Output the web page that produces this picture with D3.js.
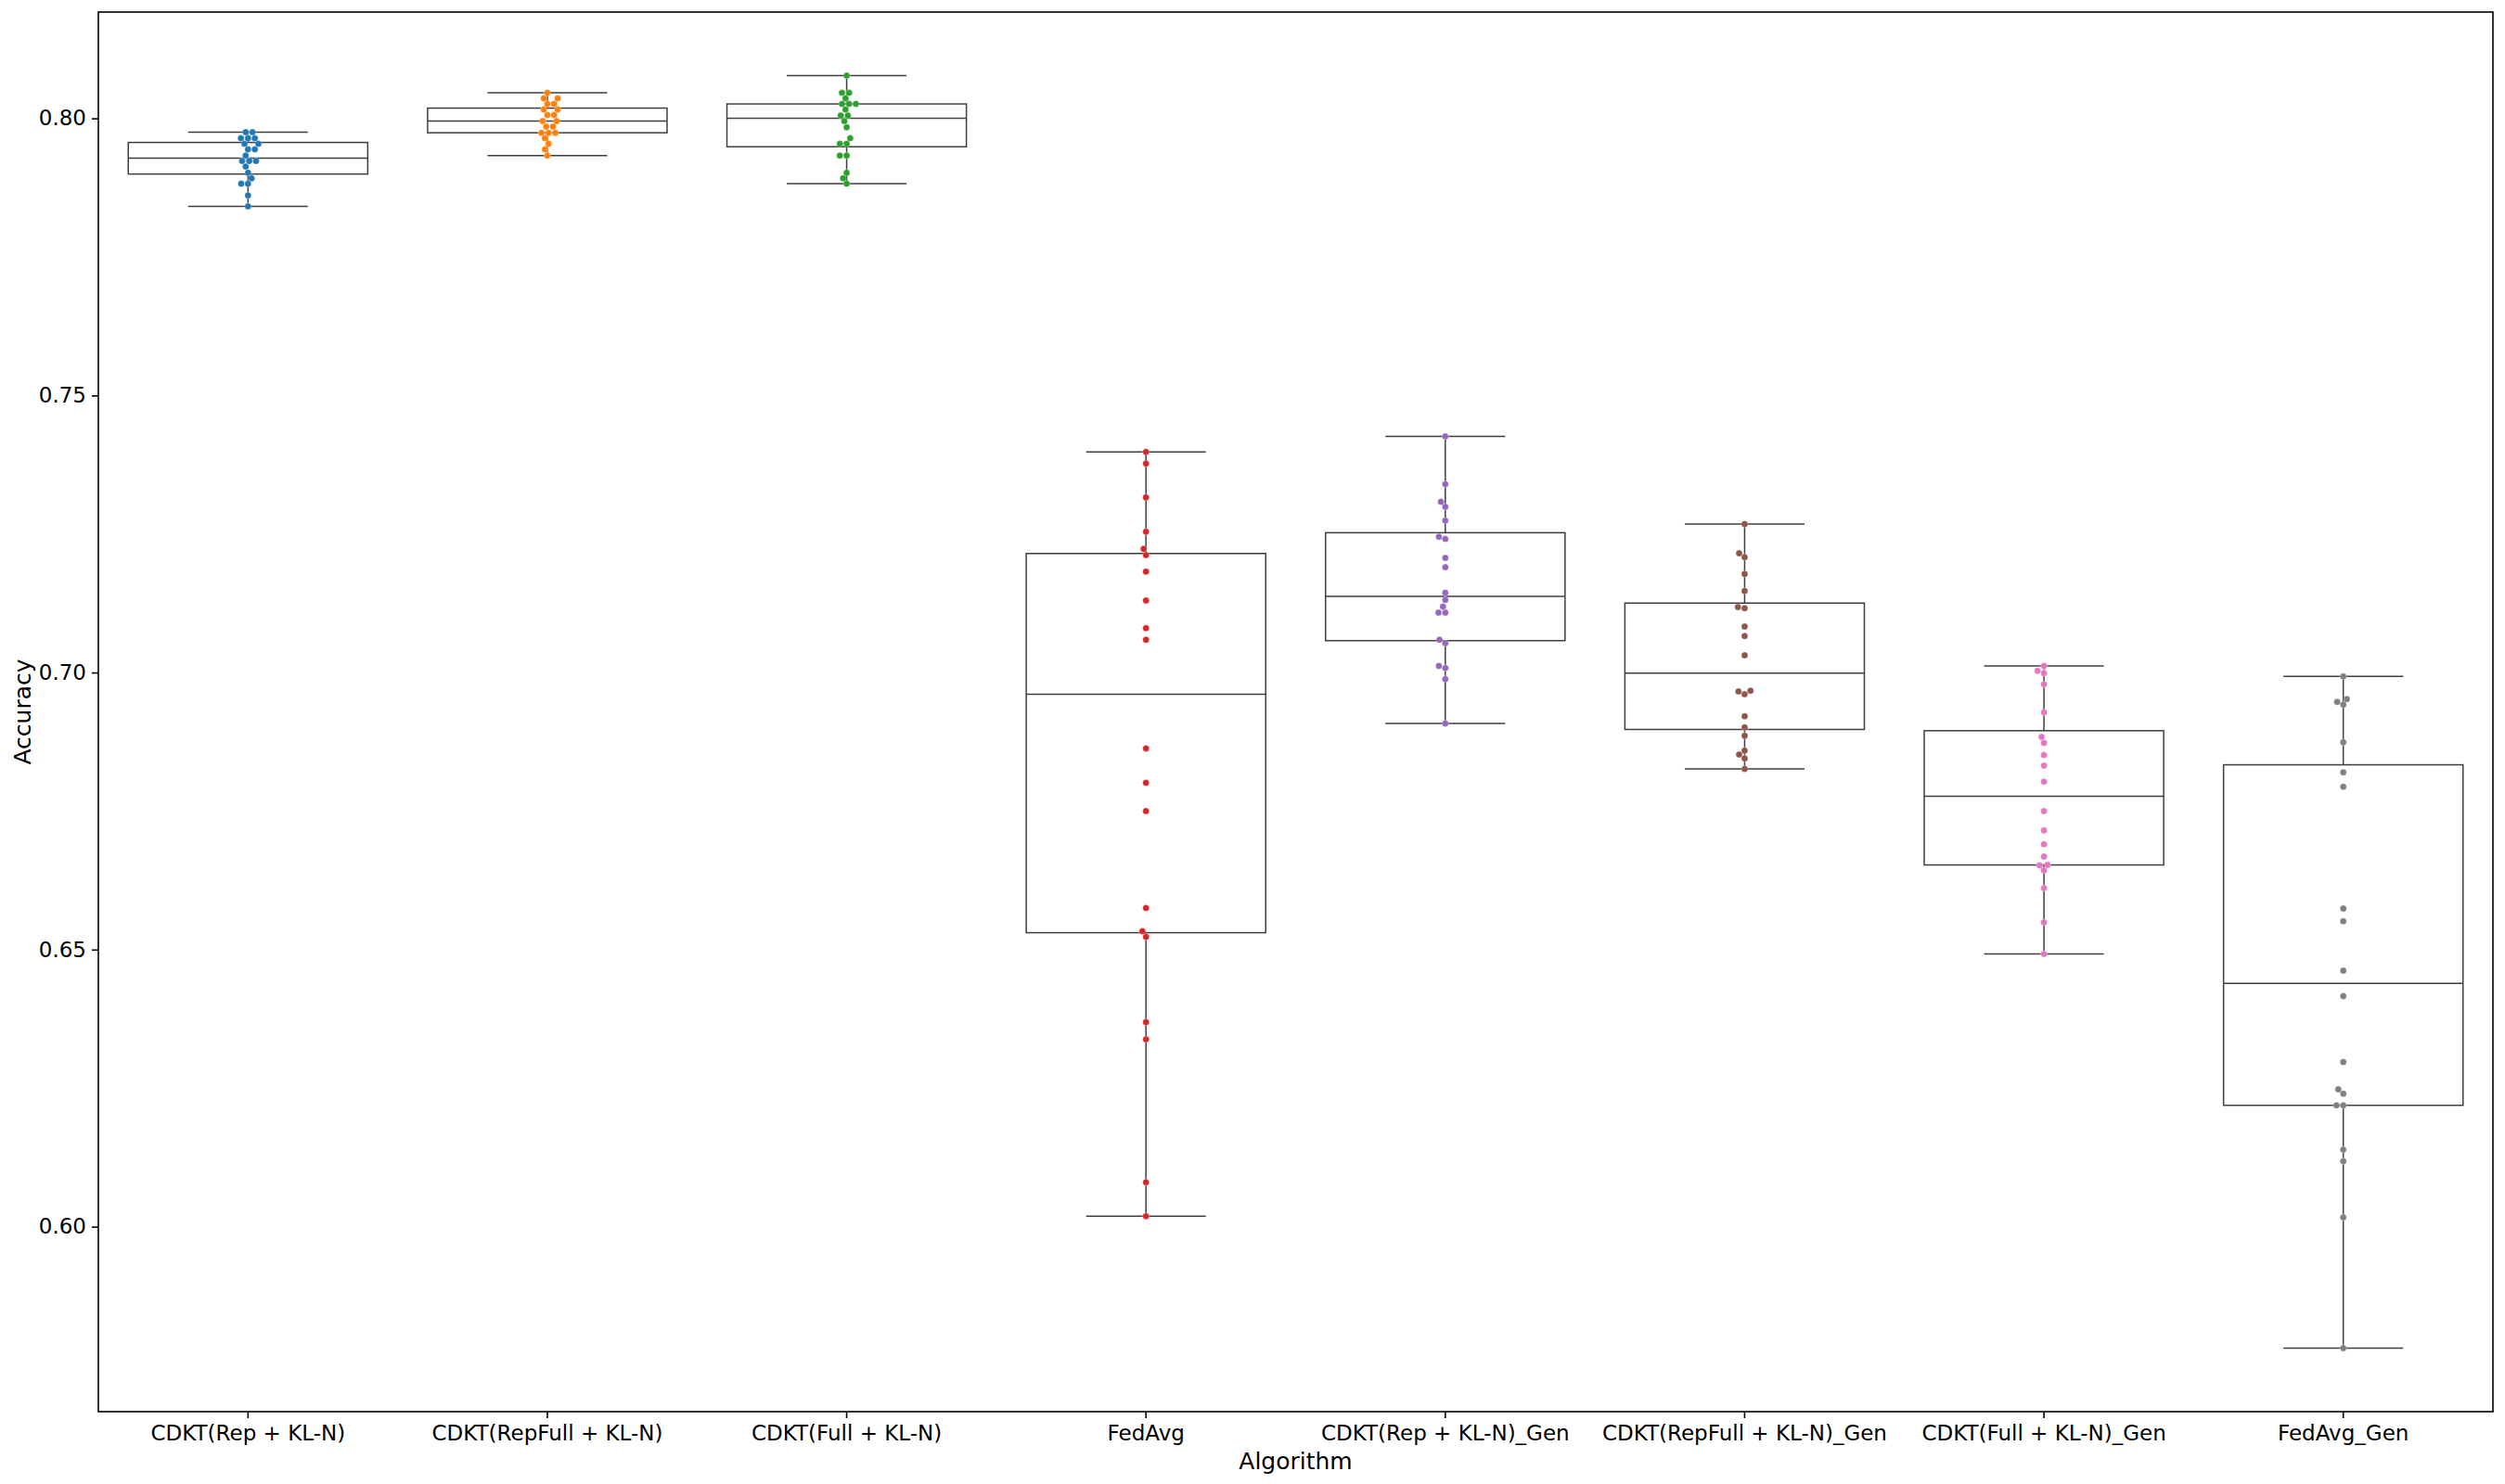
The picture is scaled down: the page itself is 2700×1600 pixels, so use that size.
<!DOCTYPE html>
<html>
<head>
<meta charset="utf-8">
<script src="https://cdn.jsdelivr.net/npm/d3@7"></script>
<style>
  html, body { margin: 0; padding: 0; background: #ffffff; }
  svg { display: block; }
  text { font-family: "DejaVu Sans", sans-serif; }
</style>
</head>
<body>
<svg id="chart" width="2700" height="1600"></svg>
<script>
// ---------- data ----------
const categories = [
  "CDKT(Rep + KL-N)", "CDKT(RepFull + KL-N)", "CDKT(Full + KL-N)", "FedAvg",
  "CDKT(Rep + KL-N)_Gen", "CDKT(RepFull + KL-N)_Gen", "CDKT(Full + KL-N)_Gen", "FedAvg_Gen"
];
const cdktRep = [0.7975,0.7975,0.7964,0.7964,0.7964,0.7954,0.7954,0.7944,0.7944,0.7933,
                 0.7923,0.7923,0.7923,0.7913,0.7902,0.7892,0.7882,0.7882,0.7861,0.7841];
const cdktRepFull = [0.8046,0.8036,0.8036,0.8026,0.8026,0.8016,0.8016,0.8006,0.8006,0.7995,
                     0.7995,0.7985,0.7985,0.7974,0.7974,0.7974,0.7964,0.7954,0.7944,0.7933];
const cdktFull = [0.8077,0.8046,0.8046,0.8036,0.8026,0.8026,0.8026,0.8016,0.8005,0.8005,
                  0.7995,0.7984,0.7964,0.7954,0.7954,0.7933,0.7933,0.7902,0.7892,0.7882];
const fedAvg = [0.7398,0.7377,0.7316,0.7254,0.7223,0.7212,0.7182,0.7130,0.7080,0.7059,
                0.6863,0.6801,0.6750,0.6575,0.6533,0.6523,0.6369,0.6338,0.6080,0.6019];
const cdktRepGen = [0.7426,0.7340,0.7308,0.7299,0.7274,0.7245,0.7241,0.7207,0.7190,0.7144,
                    0.7131,0.7119,0.7108,0.7108,0.7059,0.7053,0.7012,0.7008,0.6988,0.6908];
const cdktRepFullGen = [0.7268,0.7215,0.7208,0.7178,0.7147,0.7118,0.7116,0.7083,0.7066,0.7031,
                        0.6967,0.6966,0.6961,0.6921,0.6901,0.6886,0.6859,0.6852,0.6845,0.6826];
const cdktFullGen = [0.7012,0.7003,0.6999,0.6979,0.6928,0.6884,0.6873,0.6851,0.6832,0.6803,
                     0.6750,0.6715,0.6690,0.6668,0.6653,0.6652,0.6643,0.6611,0.6549,0.6492];
const fedAvgGen = [0.6993,0.6952,0.6947,0.6942,0.6874,0.6820,0.6794,0.6574,0.6551,0.6462,
                   0.6416,0.6297,0.6248,0.6240,0.6219,0.6219,0.6139,0.6118,0.6017,0.5781];
const seriesValues = [cdktRep, cdktRepFull, cdktFull, fedAvg, cdktRepGen, cdktRepFullGen, cdktFullGen, fedAvgGen];
const pointColors = ["#1f77b4","#ff7f0e","#2ca02c","#d62728","#9467bd","#8c564b","#e377c2","#7f7f7f"];
const yTicks = [0.60, 0.65, 0.70, 0.75, 0.80];
const xLabel = "Algorithm";
const yLabel = "Accuracy";

// ---------- layout ----------
const W = 2700, H = 1600;
const m = {left: 106, right: 2687, top: 13, bottom: 1522};
const svg = d3.select("#chart");
svg.append("rect").attr("width", W).attr("height", H).attr("fill", "#ffffff");

const all = seriesValues.flat();
const dmin = d3.min(all), dmax = d3.max(all), pad = (dmax - dmin) * 0.05;
const y = d3.scaleLinear().domain([dmin - pad, dmax + pad]).range([m.bottom, m.top]);
const x = d3.scaleBand().domain(categories).range([m.left, m.right]).padding(0);

const lineColor = "#3f3f3f";
const lw = 1.5;
const boxW = x.bandwidth() * 0.8;
const capW = boxW * 0.5;

// ---------- boxes ----------
const gBox = svg.append("g");
categories.forEach((cat, i) => {
  const vals = seriesValues[i].slice().sort(d3.ascending);
  const q1 = d3.quantile(vals, 0.25), med = d3.quantile(vals, 0.5), q3 = d3.quantile(vals, 0.75);
  const iqr = q3 - q1;
  const lo = d3.min(vals.filter(v => v >= q1 - 1.5 * iqr));
  const hi = d3.max(vals.filter(v => v <= q3 + 1.5 * iqr));
  const cx = x(cat) + x.bandwidth() / 2;
  const g = gBox.append("g");
  g.append("line").attr("x1", cx).attr("x2", cx).attr("y1", y(q3)).attr("y2", y(hi))
    .attr("stroke", lineColor).attr("stroke-width", lw);
  g.append("line").attr("x1", cx).attr("x2", cx).attr("y1", y(q1)).attr("y2", y(lo))
    .attr("stroke", lineColor).attr("stroke-width", lw);
  g.append("line").attr("x1", cx - capW / 2).attr("x2", cx + capW / 2).attr("y1", y(hi)).attr("y2", y(hi))
    .attr("stroke", lineColor).attr("stroke-width", lw);
  g.append("line").attr("x1", cx - capW / 2).attr("x2", cx + capW / 2).attr("y1", y(lo)).attr("y2", y(lo))
    .attr("stroke", lineColor).attr("stroke-width", lw);
  g.append("rect").attr("x", cx - boxW / 2).attr("y", y(q3)).attr("width", boxW).attr("height", y(q1) - y(q3))
    .attr("fill", "#ffffff").attr("stroke", lineColor).attr("stroke-width", lw);
  g.append("line").attr("x1", cx - boxW / 2).attr("x2", cx + boxW / 2).attr("y1", y(med)).attr("y2", y(med))
    .attr("stroke", lineColor).attr("stroke-width", lw);
});

// ---------- swarm ----------
const r = 3.5;
function swarm(vals, cx) {
  const d = 2 * r;
  const pts = vals.map(v => ({v, y: y(v)})).sort((a, b) => b.y - a.y);
  const placed = [];
  for (const p of pts) {
    const neigh = placed.filter(q => Math.abs(q.y - p.y) < d);
    const cands = [cx];
    let leftFirst = true;
    for (const q of neigh) {
      const dy = p.y - q.y;
      const dx = Math.sqrt(Math.max(d * d - dy * dy, 0)) * 1.05;
      if (leftFirst) cands.push(q.x - dx, q.x + dx); else cands.push(q.x + dx, q.x - dx);
      leftFirst = !leftFirst;
    }
    const sorted = cands.map((cxv, i) => ({x: cxv, i}))
      .sort((a, b) => (Math.abs(a.x - cx) - Math.abs(b.x - cx)) || (a.i - b.i));
    p.x = cx;
    for (const c of sorted) {
      if (neigh.every(q => (c.x - q.x) ** 2 + (p.y - q.y) ** 2 >= d * d - 0.01)) { p.x = c.x; break; }
    }
    placed.push(p);
  }
  return placed;
}
const gPts = svg.append("g");
categories.forEach((cat, i) => {
  const cx = x(cat) + x.bandwidth() / 2;
  const pts = swarm(seriesValues[i], cx);
  gPts.selectAll(null).data(pts).enter().append("circle")
    .attr("cx", d => d.x).attr("cy", d => y(d.v)).attr("r", r)
    .attr("fill", pointColors[i]).attr("stroke", "#ffffff").attr("stroke-width", 0.3);
});

// ---------- axes ----------
const fs = 23, lfs = 25;
const yAxis = d3.axisLeft(y).tickValues(yTicks).tickFormat(d3.format(".2f")).tickSizeOuter(0).tickSize(7).tickPadding(6);
const gy = svg.append("g").attr("transform", `translate(${m.left},0)`).call(yAxis);
gy.select(".domain").remove();
gy.selectAll(".tick line").attr("stroke", "#000").attr("stroke-width", 1.6);
gy.selectAll(".tick text").attr("font-size", fs).attr("fill", "#000").attr("font-family", "DejaVu Sans");

const xAxis = d3.axisBottom(x).tickSizeOuter(0).tickSize(7).tickPadding(8);
const gx = svg.append("g").attr("transform", `translate(0,${m.bottom})`).call(xAxis);
gx.select(".domain").remove();
gx.selectAll(".tick line").attr("stroke", "#000").attr("stroke-width", 1.6);
gx.selectAll(".tick text").attr("font-size", fs).attr("fill", "#000").attr("font-family", "DejaVu Sans");

svg.append("rect").attr("x", m.left).attr("y", m.top).attr("width", m.right - m.left).attr("height", m.bottom - m.top)
  .attr("fill", "none").attr("stroke", "#000").attr("stroke-width", 1.6);

svg.append("text").attr("x", (m.left + m.right) / 2).attr("y", 1584).attr("text-anchor", "middle")
  .attr("font-size", lfs).attr("fill", "#000").text(xLabel);
svg.append("text").attr("transform", `translate(33,${(m.top + m.bottom) / 2}) rotate(-90)`).attr("text-anchor", "middle")
  .attr("font-size", lfs).attr("fill", "#000").text(yLabel);
</script>
</body>
</html>
